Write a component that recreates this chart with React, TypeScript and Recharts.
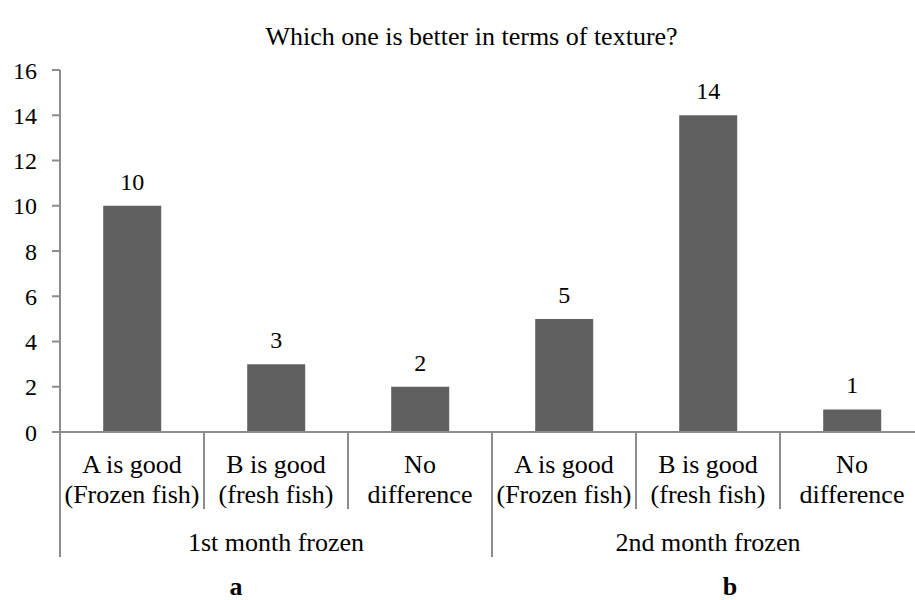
import React from "react";
import { BarChart, Bar, XAxis, YAxis, LabelList } from "recharts";

const categoryLines: string[][] = [
  ["A is good", "(Frozen fish)"],
  ["B is good", "(fresh fish)"],
  ["No", "difference"],
  ["A is good", "(Frozen fish)"],
  ["B is good", "(fresh fish)"],
  ["No", "difference"],
];
const counts: number[] = [10, 3, 2, 5, 14, 1];
const groups: string[] = ["1st month frozen", "2nd month frozen"];
const panelLetters: string[] = ["a", "b"];
const yTicks: number[] = [0, 2, 4, 6, 8, 10, 12, 14, 16];
const title = "Which one is better in terms of texture?";

const data = counts.map((v, i) => ({ key: `c${i}`, value: v }));

const FONT = "Liberation Serif";
const AXIS_COLOR = "#8c8c8c";
const TEXT_SIZE = 26;
const NUM_SIZE = 24;

const CategoryTick = (props: any) => {
  const { x, y, index, payload } = props;
  const half = payload && payload.offset ? payload.offset : 72;
  const lines = categoryLines[index] || [];
  const groupStart = index % 3 === 0;
  const lx = x - half;
  const els: any[] = [];
  els.push(
    <line key="sep" x1={lx} x2={lx} y1={y} y2={y + (groupStart ? 125 : 77)} stroke={AXIS_COLOR} strokeWidth={2} />
  );
  if (index === categoryLines.length - 1) {
    els.push(<line key="end" x1={x + half} x2={x + half} y1={y} y2={y + 125} stroke={AXIS_COLOR} strokeWidth={2} />);
  }
  lines.forEach((t, i) => {
    els.push(
      <text key={`l${i}`} x={x} y={y + 41 + i * 30} textAnchor="middle" style={{ fontFamily: FONT, fontSize: TEXT_SIZE }} fill="#000">
        {t}
      </text>
    );
  });
  if (index % 3 === 1) {
    els.push(
      <text key="g" x={x} y={y + 119} textAnchor="middle" style={{ fontFamily: FONT, fontSize: TEXT_SIZE }} fill="#000">
        {groups[Math.floor(index / 3)]}
      </text>
    );
  }
  return <g>{els}</g>;
};

export default function App() {
  return (
    <div style={{ position: "absolute", left: 0, top: 0, width: 915, height: 600, overflow: "hidden", background: "#fff", fontFamily: FONT }}>
      <div
        style={{
          position: "absolute",
          left: 0,
          width: 943,
          top: 22,
          textAlign: "center",
          fontFamily: FONT,
          fontSize: TEXT_SIZE,
          lineHeight: "30px",
          color: "#000",
        }}
      >
        {title}
      </div>
      <div style={{ position: "absolute", left: 0, top: 0 }}>
        <BarChart width={930} height={600} data={data} margin={{ top: 70, right: 6, bottom: 0, left: 0 }} barCategoryGap="30%" style={{ fontFamily: FONT }}>
          <XAxis
            dataKey="key"
            height={168}
            interval={0}
            tickLine={false}
            tickSize={0}
            tickMargin={0}
            axisLine={{ stroke: AXIS_COLOR, strokeWidth: 2 }}
            tick={<CategoryTick />}
          />
          <YAxis
            width={60}
            domain={[0, 16]}
            ticks={yTicks}
            interval={0}
            tickSize={8}
            tickMargin={15}
            tickLine={{ stroke: AXIS_COLOR, strokeWidth: 2 }}
            axisLine={{ stroke: AXIS_COLOR, strokeWidth: 2 }}
            tick={{ fill: "#000", style: { fontFamily: FONT, fontSize: NUM_SIZE } }}
          />
          <Bar dataKey="value" fill="#606060" isAnimationActive={false}>
            <LabelList dataKey="value" position="top" offset={16} fill="#000" style={{ fontFamily: FONT, fontSize: NUM_SIZE }} />
          </Bar>
        </BarChart>
      </div>
      {panelLetters.map((l, i) => (
        <div
          key={l}
          style={{
            position: "absolute",
            top: 572,
            left: i === 0 ? 216 : 710,
            width: 40,
            textAlign: "center",
            fontFamily: FONT,
            fontSize: TEXT_SIZE,
            fontWeight: "bold",
            lineHeight: "30px",
          }}
        >
          {l}
        </div>
      ))}
    </div>
  );
}
